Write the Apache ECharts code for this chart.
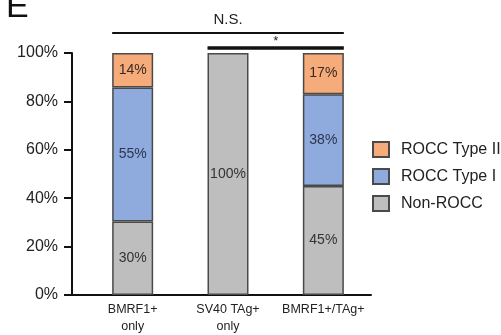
<!DOCTYPE html>
<html>
<head>
<meta charset="utf-8">
<script src="https://cdn.jsdelivr.net/npm/echarts@6/dist/echarts.min.js"></script>
<style>html,body{margin:0;padding:0;background:#fff}#c{width:501px;height:335px}</style>
</head>
<body>
<div id="c"></div>
<script>
var categories = ['BMRF1+\nonly', 'SV40 TAg+\nonly', 'BMRF1+/TAg+'];
var nonRocc = [30.4, 100, 45];
var roccType1 = [55.3, 0, 38];
var roccType2 = [14.3, 0, 17];
var yTicks = [0, 20, 40, 60, 80, 100];
var seriesNames = ['Non-ROCC', 'ROCC Type I', 'ROCC Type II'];
var FONT = 'Liberation Sans, Arial, sans-serif';

var chart = echarts.init(document.getElementById('c'), null, {renderer: 'canvas'});
function mk(name, vals, color, labColor) {
  return {
    name: name, type: 'bar', stack: 'all', barWidth: 41,
    data: vals.map(function (v) { return v === 0 ? null : v; }),
    itemStyle: {color: color, borderColor: '#4a4a4a', borderWidth: 1.5},
    label: {show: true, position: 'inside', fontSize: 14, fontFamily: FONT, color: labColor,
      formatter: function (p) { return p.value ? Math.round(p.value) + '%' : ''; }},
    emphasis: {disabled: true}
  };
}
chart.setOption({
  animation: false,
  grid: {left: 85, right: 130, top: 53, bottom: 39, containLabel: false},
  legend: {
    orient: 'vertical', left: 367, top: 136,
    data: ['ROCC Type II', 'ROCC Type I', 'Non-ROCC'],
    itemWidth: 16, itemHeight: 15, itemGap: 10,
    textStyle: {fontSize: 16, fontFamily: FONT, color: '#222', padding: [0, 0, 0, 7]},
    icon: 'rect'
  },
  xAxis: {
    type: 'category', data: categories,
    axisLine: {lineStyle: {color: '#111', width: 2}},
    axisTick: {show: false},
    axisLabel: {fontSize: 12.5, fontFamily: FONT, color: '#222', lineHeight: 17, margin: 6, interval: 0}
  },
  yAxis: {
    type: 'value', min: yTicks[0], max: yTicks[yTicks.length - 1], interval: 20, offset: 13,
    axisLine: {show: true, lineStyle: {color: '#111', width: 2}},
    axisTick: {show: true, length: 8, lineStyle: {color: '#111', width: 2}},
    axisLabel: {fontSize: 16, fontFamily: FONT, color: '#222', margin: 14, formatter: '{value}%'},
    splitLine: {show: false}
  },
  series: [
    mk(seriesNames[0], nonRocc, '#bebebe', '#333'),
    mk(seriesNames[1], roccType1, '#8faadc', '#2b3550'),
    mk(seriesNames[2], roccType2, '#f5ab7a', '#3a2a20')
  ]
});

var x0 = chart.convertToPixel({xAxisIndex: 0}, 0);
var x1 = chart.convertToPixel({xAxisIndex: 0}, 1);
var x2 = chart.convertToPixel({xAxisIndex: 0}, 2);
var yTop = chart.convertToPixel({yAxisIndex: 0}, 100);
var yBot = chart.convertToPixel({yAxisIndex: 0}, 0);
var hw = 20.5;
var gridLeft = 85, axisX = gridLeft - 13;
chart.setOption({
  graphic: [
    {type: 'line', shape: {x1: axisX, y1: yBot, x2: gridLeft, y2: yBot}, style: {stroke: '#111', lineWidth: 2}},
    {type: 'line', shape: {x1: x0 - hw, y1: yTop - 20, x2: x2 + hw, y2: yTop - 20}, style: {stroke: '#111', lineWidth: 2}},
    {type: 'text', x: (x0 + x2) / 2, y: yTop - 33, style: {text: 'N.S.', fontSize: 15, fontFamily: FONT, fill: '#222', align: 'center', verticalAlign: 'middle'}},
    {type: 'line', shape: {x1: x1 - hw, y1: yTop - 5, x2: x2 + hw, y2: yTop - 5}, style: {stroke: '#111', lineWidth: 3.5}},
    {type: 'text', x: (x1 + x2) / 2, y: yTop - 12, style: {text: '*', fontSize: 13, fontFamily: FONT, fill: '#222', align: 'center', verticalAlign: 'middle'}},
    {type: 'text', x: 6, y: 8, style: {text: 'E', fontSize: 34, fontFamily: FONT, fill: '#111', align: 'left', verticalAlign: 'middle'}}
  ]
});
</script>
</body>
</html>
